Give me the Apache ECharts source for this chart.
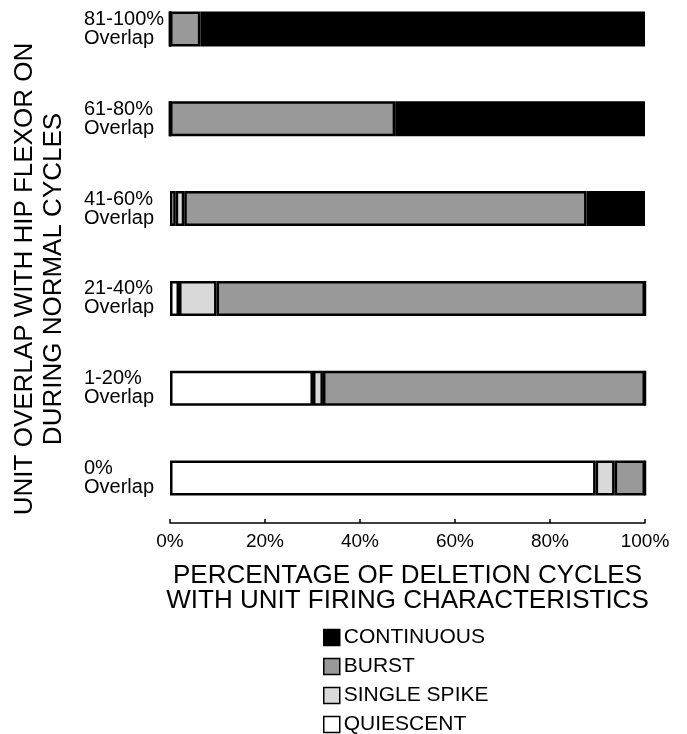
<!DOCTYPE html>
<html>
<head>
<meta charset="utf-8">
<script src="https://cdn.jsdelivr.net/npm/echarts@6/dist/echarts.min.js"></script>
<style>
  html, body { margin: 0; padding: 0; background: #fff; }
  #main { width: 687px; height: 734px; }
</style>
</head>
<body>
<div id="main"></div>
<script type="text/javascript">
	// categories from bottom to top (category axis starts at the bottom)
	var categories = ['0%\nOverlap', '1-20%\nOverlap', '21-40%\nOverlap', '41-60%\nOverlap', '61-80%\nOverlap', '81-100%\nOverlap'];
	// percentage of deletion cycles
	var quiescent   = [89.6, 30.1, 1.9, 1.2, 0, 0];
	var singleSpike = [4.0, 2.1, 7.9, 1.8, 0, 0];
	var burst       = [6.4, 67.8, 90.2, 84.7, 47.4, 6.4];
	var continuous  = [0, 0, 0, 12.3, 52.6, 93.6];
	var xTicks = [0, 20, 40, 60, 80, 100];

	var font = '"Liberation Sans", Arial, Helvetica, sans-serif';
	var myChart = echarts.init(document.getElementById('main'));

	// one stacked horizontal bar series
	var makeSeries = function (name, data, color) {
		return {
			name: name,
			type: 'bar',
			stack: 'total',
			barWidth: 35,
			itemStyle: {
				color: color,
				borderColor: '#000',
				borderWidth: 2.5
			},
			data: data
		};
	};

	var option = {
		animation: false,
		backgroundColor: '#fff',
		textStyle: { fontFamily: font, color: '#000' },
		grid: {
			left: 170,
			right: 42,
			top: -16,
			bottom: 211,
			outerBoundsMode: 'none' // grid may start above the canvas, like the original
		},
		legend: {
			orient: 'vertical',
			left: 323,
			top: 627,
			height: 120, // keep all four items in one column
			padding: 0,
			itemWidth: 16,
			itemHeight: 16,
			itemGap: 8,
			icon: 'rect',
			itemStyle: { borderColor: '#000', borderWidth: 1.5 },
			textStyle: { fontFamily: font, fontSize: 21, color: '#000', padding: [0, 0, 0, -1] },
			data: ['CONTINUOUS', 'BURST', 'SINGLE SPIKE', 'QUIESCENT']
		},
		xAxis: {
			type: 'value',
			min: xTicks[0],
			max: xTicks[xTicks.length - 1],
			interval: 20,
			name: 'PERCENTAGE OF DELETION CYCLES\nWITH UNIT FIRING CHARACTERISTICS',
			nameLocation: 'middle',
			nameGap: 40,
			nameTextStyle: { fontFamily: font, fontSize: 26, lineHeight: 25, color: '#000' },
			axisLine: { show: true, lineStyle: { color: '#000', width: 1.5 } },
			axisTick: { show: true, inside: true, length: 4, lineStyle: { color: '#000', width: 1.5 } },
			axisLabel: { formatter: '{value}%', fontFamily: font, fontSize: 19, color: '#000', margin: 9 },
			splitLine: { show: false }
		},
		yAxis: {
			type: 'category',
			data: categories,
			axisLine: { show: false },
			axisTick: { show: false },
			axisLabel: {
				align: 'left',
				margin: 86,
				fontFamily: font,
				fontSize: 20,
				lineHeight: 19,
				color: '#000'
			}
		},
		// vertical axis title sits lower than the grid middle, so place it directly
		graphic: [{
			type: 'text',
			x: 39,
			y: 279,
			rotation: Math.PI / 2,
			style: {
				text: 'UNIT OVERLAP WITH HIP FLEXOR ON\nDURING NORMAL CYCLES',
				font: '26px ' + font,
				lineHeight: 29,
				fill: '#000',
				align: 'center',
				verticalAlign: 'middle'
			}
		}],
		series: [
			makeSeries('QUIESCENT', quiescent, '#ffffff'),
			makeSeries('SINGLE SPIKE', singleSpike, '#d9d9d9'),
			makeSeries('BURST', burst, '#999999'),
			makeSeries('CONTINUOUS', continuous, '#000000')
		]
	};
	myChart.setOption(option);
</script>
</body>
</html>
